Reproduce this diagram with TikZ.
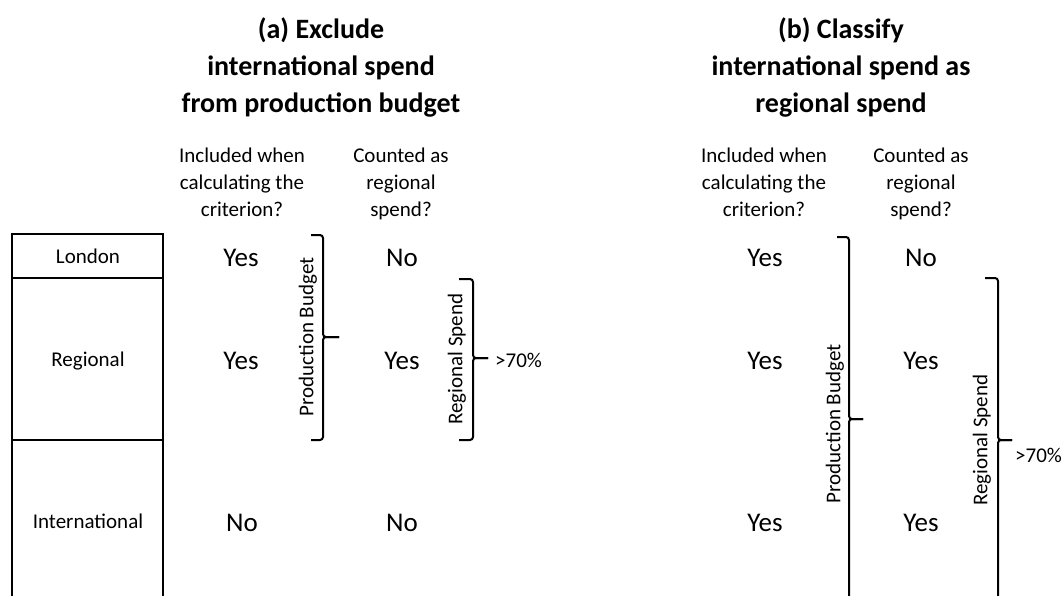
\documentclass[tikz,border=0pt]{standalone}
\usepackage{fontspec}
\setmainfont{Carlito}
\begin{document}
\begin{tikzpicture}[x=1pt,y=-1pt,
  title/.style={font=\fontsize{28}{37}\selectfont\bfseries, align=center, inner sep=0pt},
  colhead/.style={font=\fontsize{21}{27}\selectfont, align=center, inner sep=0pt},
  answer/.style={font=\fontsize{27}{32}\selectfont, inner sep=0pt, anchor=base},
  rowlabel/.style={font=\fontsize{21}{25}\selectfont, inner sep=0pt, anchor=base},
  bracelabel/.style={font=\fontsize{21}{25}\selectfont, inner sep=0pt, rotate=90},
  pct/.style={font=\fontsize{21}{25}\selectfont, inner sep=0pt},
  frame/.style={line width=2pt},
  bracket/.style={line width=2pt, rounded corners=3pt}]
\useasboundingbox (0,0) rectangle (1063,595);
\clip (0,0) rectangle (1063,595);

% ---------- spend categories ----------
\draw[frame] (12,600) -- (12,234) -- (163,234) -- (163,600);
\draw[frame] (12,278) -- (163,278);
\draw[frame] (12,440) -- (163,440);
\node[rowlabel] (london) at (88,263) {London};
\node[rowlabel] (regional) at (88,366) {Regional};
\node[rowlabel] (intl) at (88,528) {International};

% ---------- option (a) ----------
\node[title] (titleA) at (321,67) {(a) Exclude\\international spend\\from production budget};
\node[colhead] (incA) at (242,182) {Included when\\calculating the\\criterion?};
\node[colhead] (cntA) at (401,184) {Counted as\\regional\\spend?};

\node[answer] (a11) at (241,266) {Yes};
\node[answer] (a21) at (241,369) {Yes};
\node[answer] (a31) at (242,531) {No};
\node[answer] (a12) at (402,266) {No};
\node[answer] (a22) at (402,369) {Yes};
\node[answer] (a32) at (402,531) {No};

% production budget bracket (a)
\coordinate (pbAtop) at (311,235);
\coordinate (pbAbot) at (311,440);
\coordinate (pbAx) at (323,337);
\coordinate (pbAtip) at (339,337);
\draw[bracket] (pbAtop) -- (pbAtop -| pbAx) -- (pbAx) -- (pbAtip);
\draw[bracket] (pbAbot) -- (pbAbot -| pbAx) -- (pbAx) -- (pbAtip);
\node[bracelabel] (pbAlabel) at (308,337) {Production Budget};

% regional spend bracket (a)
\coordinate (rsAtop) at (459,279);
\coordinate (rsAbot) at (459,440);
\coordinate (rsAx) at (473,358);
\coordinate (rsAtip) at (488,358);
\draw[bracket] (rsAtop) -- (rsAtop -| rsAx) -- (rsAx) -- (rsAtip);
\draw[bracket] (rsAbot) -- (rsAbot -| rsAx) -- (rsAx) -- (rsAtip);
\node[bracelabel] (rsAlabel) at (457,359) {Regional Spend};
\node[pct, anchor=west] (pctA) at (495,360) {>70\%};

% ---------- option (b) ----------
\node[title] (titleB) at (841,67) {(b) Classify\\international spend as\\regional spend};
\node[colhead] (incB) at (764,182) {Included when\\calculating the\\criterion?};
\node[colhead] (cntB) at (921,184) {Counted as\\regional\\spend?};

\node[answer] (b11) at (765,266) {Yes};
\node[answer] (b21) at (765,369) {Yes};
\node[answer] (b31) at (765,531) {Yes};
\node[answer] (b12) at (921,266) {No};
\node[answer] (b22) at (921,369) {Yes};
\node[answer] (b32) at (921,531) {Yes};

% production budget bracket (b)
\coordinate (pbBtop) at (837,237);
\coordinate (pbBx) at (849,419);
\coordinate (pbBtip) at (863,419);
\coordinate (pbBend) at (849,600);
\draw[bracket] (pbBtop) -- (pbBtop -| pbBx) -- (pbBx) -- (pbBtip);
\draw[bracket] (pbBend) -- (pbBx) -- (pbBtip);
\node[bracelabel] (pbBlabel) at (835,424) {Production Budget};

% regional spend bracket (b)
\coordinate (rsBtop) at (985,278);
\coordinate (rsBx) at (998,440);
\coordinate (rsBtip) at (1012,440);
\coordinate (rsBend) at (998,600);
\draw[bracket] (rsBtop) -- (rsBtop -| rsBx) -- (rsBx) -- (rsBtip);
\draw[bracket] (rsBend) -- (rsBx) -- (rsBtip);
\node[bracelabel] (rsBlabel) at (982,440) {Regional Spend};
\node[pct, anchor=west] (pctB) at (1015,455) {>70\%};
\end{tikzpicture}
\end{document}
